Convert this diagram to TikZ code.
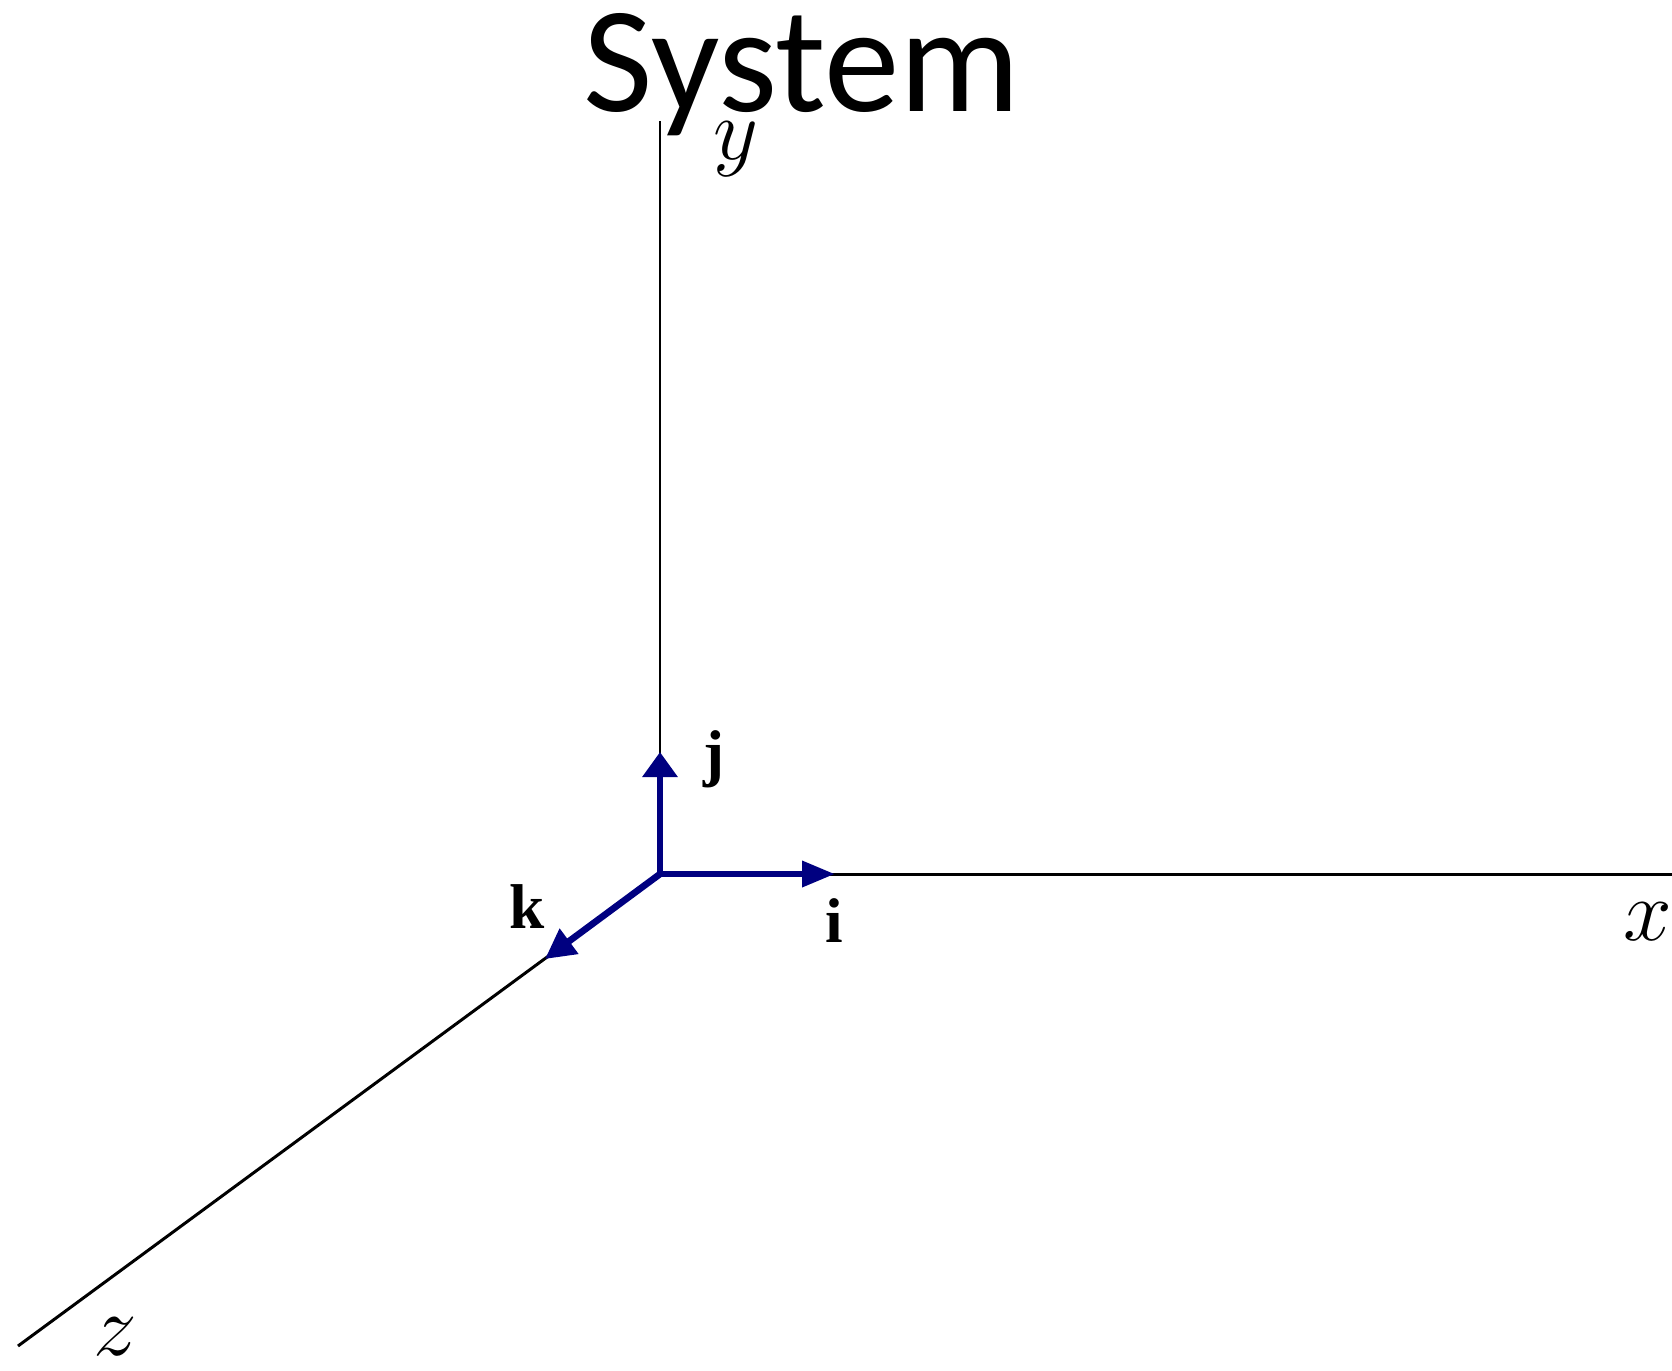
\documentclass[tikz,border=0pt]{standalone}
\usepackage{fontspec}
\newfontfamily\titlefont{Carlito}
\newfontfamily\labelfont{Liberation Serif}
\usetikzlibrary{math}
\usetikzlibrary{arrows.meta}
\definecolor{vecblue}{RGB}{0,0,128}

\begin{document}
\begin{tikzpicture}
	% Constants
	\tikzmath{\axislen = 7.53; \xlen = 10.12; \zx = -6.42; \zy = -4.72; \unitlen = 1.22; \ilen = 1.75;}
	\tikzset{
		axis/.style={line width=0.85pt, black},
		unitvec/.style={line width=1.9pt, vecblue},
		axislabel/.style={font=\fontsize{28}{28}\selectfont, inner sep=0pt, anchor=base},
		veclabel/.style={font=\labelfont\bfseries\fontsize{18}{18}\selectfont, inner sep=0pt, anchor=base}
	}
	\useasboundingbox (-6.60,-4.96) rectangle (10.12,8.74);

	\coordinate (o) at (0,0);
	\coordinate (xend) at (\xlen,0);
	\coordinate (yend) at (0,\axislen);
	\coordinate (zend) at (\zx,\zy);

	% Axes
	\draw[axis] (o) -- (xend);
	\draw[axis] (o) -- (yend);
	\draw[axis] (o) -- (zend);

	% Unit vectors
	\coordinate (itip) at (\ilen,0);
	\coordinate (jtip) at (0,\unitlen);
	\coordinate (ktip) at (-1.15,-0.85);
	\draw[unitvec, -{Triangle[length=3.3mm,width=2.5mm]}] (o) -- (itip);
	\draw[unitvec, -{Triangle[length=2.5mm,width=3.4mm]}] (o) -- (jtip);
	\draw[unitvec, -{Triangle[length=3mm,width=3mm]}] (o) -- (ktip);

	% Labels
	\node[axislabel] (xlabel) at (9.88,-0.66) {$x$};
	\node[axislabel] (ylabel) at (0.76,7.15) {$y$};
	\node[axislabel] (zlabel) at (-5.45,-4.81) {$z$};
	\node[veclabel] (ilabel) at (1.74,-0.68) {i};
	\node[veclabel] (jlabel) at (0.54,1.00) {j};
	\node[veclabel] (klabel) at (-1.33,-0.54) {k};

	% Title
	\node[font=\titlefont\fontsize{43}{43}\selectfont, inner sep=0pt, anchor=base] (title) at (1.42,7.63) {System};
\end{tikzpicture}
\end{document}
